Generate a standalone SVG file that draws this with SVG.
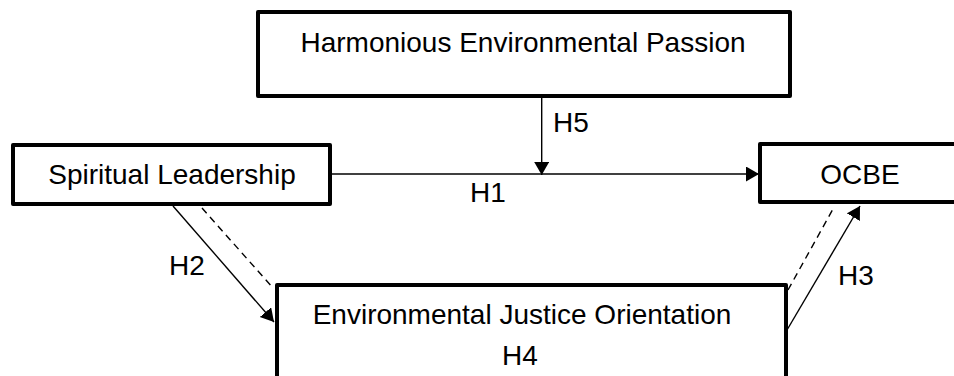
<svg xmlns="http://www.w3.org/2000/svg" width="954" height="376" viewBox="0 0 954 376">
<defs>
<style>
.box{fill:#fff;stroke:#000;stroke-width:4;stroke-linejoin:round}
.lbl{font-family:"Liberation Sans",Arial,sans-serif;font-size:28px;fill:#000;text-anchor:middle}
.edge{stroke:#000;stroke-width:1.4;fill:none}
.dash{stroke-dasharray:7,5}
</style>
<marker id="arr" markerUnits="userSpaceOnUse" markerWidth="14" markerHeight="16" refX="13" refY="7.5" orient="auto">
<path d="M0,0 L13,7.5 L0,15 z" fill="#000"/>
</marker>
</defs>
<rect width="954" height="376" fill="#fff"/>
<g id="connectors">
<line class="edge" x1="332" y1="174" x2="759" y2="174" marker-end="url(#arr)"/>
<line class="edge" x1="541.7" y1="98" x2="541.7" y2="175" marker-end="url(#arr)"/>
<line class="edge" x1="173" y1="206" x2="274" y2="322" marker-end="url(#arr)"/>
<line class="edge dash" x1="202" y1="208" x2="273" y2="288"/>
<line class="edge" x1="787" y1="330" x2="860" y2="206" marker-end="url(#arr)"/>
<line class="edge dash" x1="788" y1="290" x2="833" y2="209"/>
<text class="lbl" x="488" y="202">H1</text>
<text class="lbl" x="571" y="132">H5</text>
<text class="lbl" x="187" y="275">H2</text>
<text class="lbl" x="856" y="285">H3</text>
</g>
<g id="passion">
<rect class="box" x="258" y="12" width="532" height="84"/>
<text class="lbl" x="523" y="52">Harmonious Environmental Passion</text>
</g>
<g id="leadership">
<rect class="box" x="13" y="145" width="317" height="59"/>
<text class="lbl" x="172" y="184">Spiritual Leadership</text>
</g>
<g id="ocbe">
<rect class="box" x="760" y="144" width="220" height="58"/>
<text class="lbl" x="860" y="184">OCBE</text>
</g>
<g id="justice">
<rect class="box" x="277" y="285" width="509" height="120"/>
<text class="lbl" x="522" y="324">Environmental Justice Orientation</text>
<text class="lbl" x="520" y="365">H4</text>
</g>
</svg>
